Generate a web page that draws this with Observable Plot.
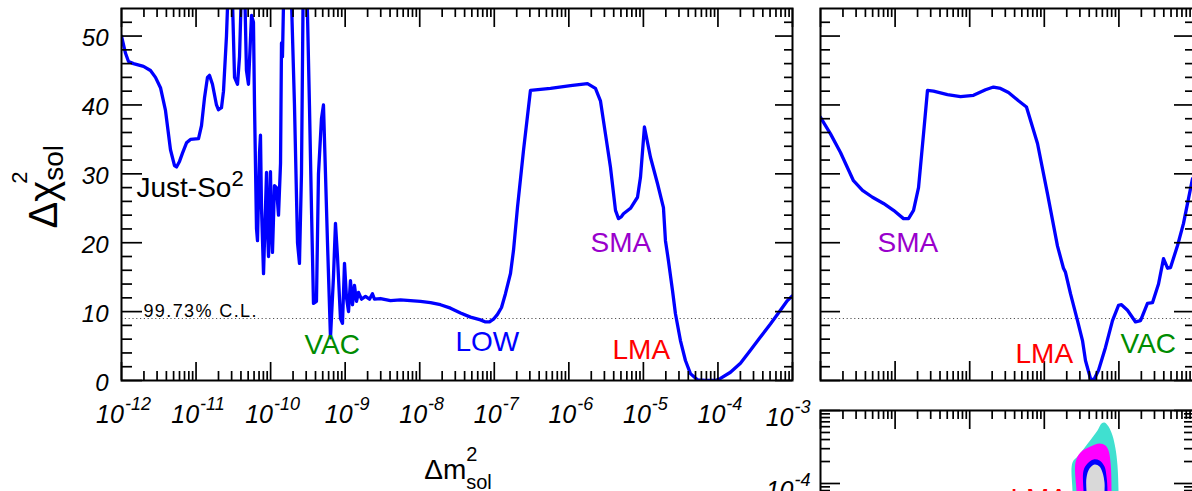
<!DOCTYPE html>
<html><head><meta charset="utf-8">
<script src="https://cdn.jsdelivr.net/npm/d3@7"></script>
<script src="https://cdn.jsdelivr.net/npm/@observablehq/plot@0.6"></script>
<style>
html,body{margin:0;padding:0;overflow:hidden;background:#fff;}
#wrap{position:relative;width:1192px;height:491px;overflow:hidden;background:#fff;}
#wrap svg{position:absolute;overflow:visible;}
</style></head><body><div id="wrap"></div>
<script>
// ---------- data ----------
// left panel: log10(Δm²_sol) and Δχ²_sol
const leftLogDm2 = [-12.000,-11.946,-11.906,-11.839,-11.705,-11.611,-11.544,-11.477,-11.410,-11.343,
-11.289,-11.262,-11.222,-11.182,-11.128,-11.075,-10.967,-10.927,-10.887,-10.847,
-10.820,-10.780,-10.726,-10.699,-10.659,-10.632,-10.592,-10.552,-10.511,-10.484,
-10.444,-10.417,-10.377,-10.350,-10.324,-10.297,-10.256,-10.230,-10.216,-10.189,
-10.176,-10.149,-10.136,-10.122,-10.095,-10.069,-10.055,-10.042,-10.028,-10.002,
-9.988,-9.975,-9.948,-9.921,-9.894,-9.867,-9.854,-9.841,-9.814,-9.787,
-9.733,-9.680,-9.639,-9.613,-9.586,-9.559,-9.519,-9.479,-9.452,-9.425,
-9.385,-9.358,-9.318,-9.291,-9.264,-9.237,-9.197,-9.157,-9.130,-9.103,
-9.063,-9.036,-9.009,-8.982,-8.955,-8.929,-8.902,-8.875,-8.848,-8.821,
-8.781,-8.727,-8.674,-8.634,-8.607,-8.526,-8.392,-8.258,-8.124,-7.990,
-7.856,-7.722,-7.587,-7.453,-7.319,-7.185,-7.118,-7.064,-7.011,-6.957,
-6.903,-6.850,-6.783,-6.742,-6.689,-6.608,-6.515,-6.246,-5.978,-5.750,
-5.643,-5.576,-5.509,-5.442,-5.374,-5.334,-5.294,-5.267,-5.173,-5.079,
-5.039,-4.986,-4.905,-4.811,-4.731,-4.704,-4.664,-4.610,-4.570,-4.503,
-4.436,-4.369,-4.275,-4.167,-4.033,-3.966,-3.832,-3.698,-3.564,-3.430,
-3.296,-3.162,-3.068,-3.000];
const leftChi2 = [50,47.5,46.3,46,45.6,45,44,42.5,39.2,33.5,
31.2,31,31.8,33,34.5,35,35.1,37,41,44,
44.3,43,40,39.3,39.6,42,50,62,55,44,
43,47,62,58,45,43,53,52,40,22,
20.3,33,35.6,25,15.5,25,30.2,22,18,30.3,
22,18.6,28.3,28,24,31.5,49,47,62,62,
60,40,20,17,30,62,60,40,25,11.2,
11.5,30,38,40,30,20,6.2,15,22.8,18,
9,8.3,17,12,10,14.5,11,13.8,11.5,12.8,
11.8,12.2,11.8,12.6,11.8,11.9,11.6,11.7,11.6,11.5,
11.3,11,10.5,9.8,9.2,8.8,8.5,8.5,8.9,9.6,
10.6,12.6,15.5,18.9,25.1,33.4,42.1,42.4,42.8,43.1,
42.4,40.6,35.8,31,24.7,23.5,23.8,24.2,25,26.6,
29.5,36.8,32.4,28.6,25.1,20.3,17.4,13.1,9.7,5.8,
2.9,1,0.1,0,0,0.3,1.2,2.5,4.4,6.3,
8.2,10.2,11.6,12.3];

// right panel: log10(tan²θ_sol) and Δχ²_sol
const rightLogTan2 = [-4.000,-3.933,-3.866,-3.732,-3.558,-3.437,-3.303,-3.155,-3.021,-2.887,
-2.820,-2.753,-2.686,-2.619,-2.566,-2.485,-2.298,-2.123,-1.949,-1.788,
-1.681,-1.587,-1.480,-1.346,-1.239,-1.091,-0.957,-0.823,-0.743,-0.716,
-0.649,-0.555,-0.488,-0.448,-0.381,-0.340,-0.273,-0.180,-0.086,-0.005,
0.035,0.115,0.223,0.290,0.383,0.450,0.531,0.598,0.652,0.692,
0.786,0.866,0.987];
const rightChi2 = [38.2,37,35.8,33.1,29,27.6,26.6,25.7,24.7,23.5,
23.5,24.7,28,35.8,42.1,42,41.5,41.2,41.4,42.2,
42.6,42.4,41.8,40.6,39.7,34.4,27.1,19.5,16.3,15.7,
12.6,8.7,5.8,2.9,0.3,0,1.5,4.8,8.7,10.9,
11,10.2,8.5,8.7,11.2,11.3,14,17.7,16.3,16.4,
19.6,22.8,29.3];

// bottom-right panel: allowed regions, [log10 tan²θ, log10 Δm²]
const regionOuter = [[-0.622,-4.110],[-0.622,-3.712],[-0.541,-3.616],[-0.407,-3.438],[-0.287,-3.274],[-0.233,-3.178],[-0.193,-3.164],[-0.139,-3.219],[-0.086,-3.343],[-0.046,-3.521],[-0.019,-3.754],[-0.005,-4.110],[-0.005,-4.507],[-0.112,-4.781],[-0.515,-4.781],[-0.608,-4.507]];
const region99 = [[-0.568,-4.110],[-0.582,-3.712],[-0.515,-3.575],[-0.381,-3.493],[-0.260,-3.452],[-0.180,-3.480],[-0.139,-3.548],[-0.112,-3.712],[-0.099,-4.110],[-0.112,-4.576],[-0.488,-4.576],[-0.555,-4.370]];
const region95 = [[-0.474,-4.110],[-0.474,-3.822],[-0.421,-3.726],[-0.340,-3.671],[-0.260,-3.685],[-0.193,-3.767],[-0.166,-3.904],[-0.153,-4.110],[-0.166,-4.439],[-0.421,-4.439],[-0.461,-4.302]];
const region90 = [[-0.434,-4.110],[-0.434,-3.918],[-0.394,-3.795],[-0.327,-3.740],[-0.260,-3.767],[-0.220,-3.849],[-0.193,-3.986],[-0.193,-4.110],[-0.206,-4.370],[-0.407,-4.370]];

const clLevel = 9;
const clText = "99.73% C.L.";
const dm2Exps = [-12,-11,-10,-9,-8,-7,-6,-5,-4,-3];
const dm2LabelExps = [-12,-11,-10,-9,-8,-7,-6,-5,-4];
const tanExps = [-4,-3,-2,-1,0,1];
const bottomDm2Exps = [-8,-7,-6,-5,-4,-3];
const chiTicks = [0,10,20,30,40,50];
const xTitle = "Δm^{2}_{sol}";
const yTitle = "Δχ^{2}_{sol}";

const leftNoteText = ["Just-So^{2}","VAC","LOW","SMA","LMA"];
const leftNoteDm2 = [1.59e-12, 2.84e-10, 3.02e-8, 1.95e-6, 3.85e-6];
const leftNoteChi2 = [26.6, 3.9, 4.35, 18.7, 3.05];
const clNoteDm2 = 1.97e-12, clNoteChi2 = 9.15;
const rightNoteText = ["SMA","LMA","VAC"];
const rightNoteTan2 = [5.81e-4, 0.0411, 1.052];
const rightNoteChi2 = [18.7, 2.47, 3.92];
const bottomNoteText = ["LMA"];
const bottomNoteTan2 = [0.0352];
const bottomNoteDm2 = [4.69e-5];

// ---------- styles ----------
const FONT = '"Liberation Sans", Arial, Helvetica, sans-serif';
const BLUE = "#0000ff";
const noteColor = {"Just-So^{2}": "#000000", VAC: "#008c00", LOW: "#0000ff", SMA: "#9900cc", LMA: "#ff0000"};

const pow10 = (e) => Math.pow(10, e);
const logMinor = (exps) => exps.slice(0, -1).flatMap(e => d3.range(2, 10).map(k => k * pow10(e)));
const chiMinor = d3.range(2, 54, 2).filter(v => v % 10 !== 0);
const expFmt = d => `10^{${Math.round(Math.log10(d))}}`;

function frameTicks({fw, fh, xMaj, xMin, yMaj, yMin, top, bottom, left, right}) {
  const s = {stroke: "black", strokeWidth: 1.7};
  const m = [];
  if (bottom) m.push(Plot.tickX(xMaj, {...s, insetTop: fh - bottom[0]}), Plot.tickX(xMin, {...s, insetTop: fh - bottom[1]}));
  if (top) m.push(Plot.tickX(xMaj, {...s, insetBottom: fh - top[0]}), Plot.tickX(xMin, {...s, insetBottom: fh - top[1]}));
  if (left) m.push(Plot.tickY(yMaj, {...s, insetRight: fw - left[0]}), Plot.tickY(yMin, {...s, insetRight: fw - left[1]}));
  if (right) m.push(Plot.tickY(yMaj, {...s, insetLeft: fw - right[0]}), Plot.tickY(yMin, {...s, insetLeft: fw - right[1]}));
  return m;
}

// turn "base^{sup}_{sub}" texts into tspans
function rich(svg, test, o) {
  d3.select(svg).selectAll("text").filter(function () { return test(this.textContent); }).each(function () {
    const t = this.textContent;
    const m = t.match(/^([^^_]*)(?:\^\{([^}]*)\})?(?:_\{([^}]*)\})?$/);
    if (!m || (m[2] == null && m[3] == null)) return;
    const el = d3.select(this);
    el.text(null);
    el.append("tspan").text(m[1]);
    let sup = null;
    if (m[2] != null) sup = el.append("tspan").attr("font-size", o.supSize).attr("dx", o.supDx || 0).attr("dy", -o.supRaise).text(m[2]);
    if (m[3] != null) {
      const w = sup ? sup.node().getComputedTextLength() + (o.supDx || 0) : 0;
      el.append("tspan").attr("font-size", o.subSize).attr("dx", -w + (o.subDx || 0)).attr("dy", (sup ? o.supRaise : 0) + o.subDrop).text(m[3]);
    }
  });
}

const wrap = document.getElementById("wrap");
function place(svg, left, top) { svg.style.left = left + "px"; svg.style.top = top + "px"; wrap.appendChild(svg); }

// ---------- left panel ----------
const leftData = leftLogDm2.map((l, i) => ({dm2: pow10(l), chi2: leftChi2[i]}));
const LW = 830, LH = 491, LML = 121, LMR = 38, LMT = 8, LMB = 111;
const lfw = LW - LML - LMR, lfh = LH - LMT - LMB;
const leftPlot = Plot.plot({
  width: LW, height: LH, marginLeft: LML, marginRight: LMR, marginTop: LMT, marginBottom: LMB,
  x: {type: "log", domain: [1e-12, 1e-3]},
  y: {domain: [0, 54]},
  color: {type: "identity"},
  style: {background: "transparent", fontFamily: FONT, overflow: "visible"},
  marks: [
    Plot.ruleY([clLevel], {stroke: "#555", strokeWidth: 1, strokeDasharray: "1.2,2.6"}),
    Plot.line(leftData, {x: "dm2", y: "chi2", stroke: BLUE, strokeWidth: 3.3, clip: true}),
    ...frameTicks({fw: lfw, fh: lfh, xMaj: dm2Exps.map(pow10), xMin: logMinor(dm2Exps), yMaj: chiTicks, yMin: chiMinor,
      bottom: [18, 9], top: [19, 9], left: [21, 11], right: [17, 8]}),
    Plot.axisX({ticks: dm2LabelExps.map(pow10), anchor: "bottom", tickSize: 0, tickPadding: 25, tickFormat: expFmt,
      fontSize: 25, fontStyle: "italic", dx: 2, label: null}),
    Plot.axisY({ticks: chiTicks, anchor: "left", tickSize: 0, tickPadding: 13, tickFormat: d => String(d),
      fontSize: 24, fontStyle: "italic", dy: 2.5, label: null}),
    Plot.text([xTitle], {frameAnchor: "bottom", dx: 1, dy: 98, lineAnchor: "bottom", fontSize: 28}),
    Plot.text([yTitle], {frameAnchor: "left", dx: -65, dy: 34, rotate: -90, textAnchor: "start", lineAnchor: "bottom", fontSize: 40}),
    Plot.text(leftNoteText, {x: leftNoteDm2, y: leftNoteChi2, text: d => d, fill: d => noteColor[d], textAnchor: "start", lineAnchor: "bottom", fontSize: 28}),
    Plot.text([clText], {x: [clNoteDm2], y: [clNoteChi2], text: d => d, textAnchor: "start", lineAnchor: "bottom", fontSize: 18}),
    Plot.frame({stroke: "black", strokeWidth: 2})
  ]
});
place(leftPlot, 0, 0);
rich(leftPlot, t => /^10\^/.test(t), {supSize: 18, supRaise: 13, supDx: 1});
rich(leftPlot, t => t === "Just-So^{2}", {supSize: 22, supRaise: 11});
rich(leftPlot, t => t === xTitle, {supSize: 20, supRaise: 18, subSize: 20, subDrop: 10});
rich(leftPlot, t => t === yTitle, {supSize: 22, supRaise: 30, supDx: -3, subSize: 28, subDrop: 6});
d3.select(leftPlot).selectAll("text").filter(function () { return this.textContent === clText; }).style("letter-spacing", "1.4px");

// ---------- right (top) panel ----------
const rightData = rightLogTan2.map((l, i) => ({tan2: pow10(l), chi2: rightChi2[i]}));
const RW = 393, RH = 491, RML = 10, RMR = 10, RMT = 8, RMB = 111;
const rfw = RW - RML - RMR, rfh = RH - RMT - RMB;
const rightPlot = Plot.plot({
  width: RW, height: RH, marginLeft: RML, marginRight: RMR, marginTop: RMT, marginBottom: RMB,
  x: {type: "log", domain: [1e-4, 10], axis: null},
  y: {domain: [0, 54], axis: null},
  color: {type: "identity"},
  style: {background: "transparent", fontFamily: FONT, overflow: "visible"},
  marks: [
    Plot.ruleY([clLevel], {stroke: "#555", strokeWidth: 1, strokeDasharray: "1.2,2.6"}),
    Plot.line(rightData, {x: "tan2", y: "chi2", stroke: BLUE, strokeWidth: 3.3, clip: true}),
    ...frameTicks({fw: rfw, fh: rfh, xMaj: tanExps.map(pow10), xMin: logMinor(tanExps), yMaj: chiTicks, yMin: chiMinor,
      bottom: [19, 9], top: [19, 9], left: [20, 10], right: [19, 8]}),
    Plot.text(rightNoteText, {x: rightNoteTan2, y: rightNoteChi2, text: d => d, fill: d => noteColor[d], textAnchor: "start", lineAnchor: "bottom", fontSize: 28}),
    Plot.frame({stroke: "black", strokeWidth: 2})
  ]
});
place(rightPlot, 810, 0);

// ---------- bottom-right panel ----------
const toPts = (arr) => arr.map(([a, b]) => ({tan2: pow10(a), dm2: pow10(b)}));
const BW = 443, BH = 385, BML = 60, BMR = 10, BMT = 10, BMB = 10;
const bfw = BW - BML - BMR, bfh = BH - BMT - BMB;
const regionStyle = (fill) => ({x: "tan2", y: "dm2", fill, stroke: "none", curve: "catmull-rom-closed", clip: true});
const bottomPlot = Plot.plot({
  width: BW, height: BH, marginLeft: BML, marginRight: BMR, marginTop: BMT, marginBottom: BMB,
  x: {type: "log", domain: [1e-4, 10], axis: null},
  y: {type: "log", domain: [1e-8, 1e-3]},
  color: {type: "identity"},
  style: {background: "transparent", fontFamily: FONT, overflow: "visible"},
  marks: [
    Plot.line(toPts(regionOuter), regionStyle("#40e0d0")),
    Plot.line(toPts(region99), regionStyle("#ff00ff")),
    Plot.line(toPts(region95), regionStyle("#0000ff")),
    Plot.line(toPts(region90), regionStyle("#d9d9d9")),
    ...frameTicks({fw: bfw, fh: bfh, xMaj: tanExps.map(pow10), xMin: logMinor(tanExps), yMaj: bottomDm2Exps.map(pow10), yMin: logMinor(bottomDm2Exps),
      top: [19, 9], left: [20, 10], right: [19, 9]}),
    Plot.axisY({ticks: bottomDm2Exps.map(pow10), anchor: "left", tickSize: 0, tickPadding: 10, tickFormat: expFmt,
      fontSize: 25, fontStyle: "italic", dy: 7, label: null}),
    Plot.text(bottomNoteText, {x: bottomNoteTan2, y: bottomNoteDm2, text: d => d, fill: d => noteColor[d], textAnchor: "start", lineAnchor: "bottom", fontSize: 28}),
    Plot.frame({stroke: "black", strokeWidth: 2})
  ]
});
place(bottomPlot, 760, 400);
rich(bottomPlot, t => /^10\^/.test(t), {supSize: 18, supRaise: 13, supDx: 1});
</script></body></html>
